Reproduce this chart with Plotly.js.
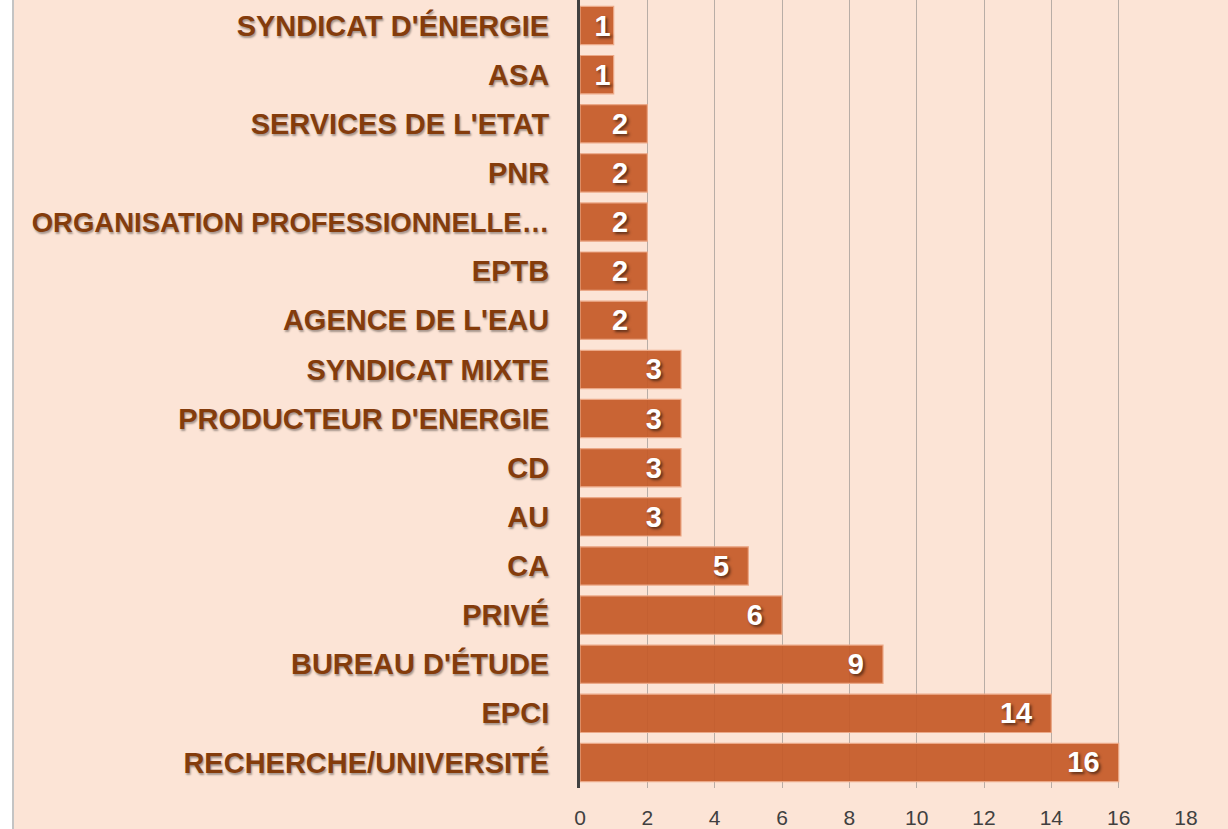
<!DOCTYPE html>
<html><head><meta charset="utf-8">
<script src="https://cdn.plot.ly/plotly-3.0.1.min.js"></script>
<style>
html,body{margin:0;padding:0;background:#ffffff;overflow:hidden;}
#wrap{position:absolute;left:12px;top:0;width:1216px;height:829px;border-left:2px solid #C4C4C4;background:#FCE4D6;}
#chart{width:1214px;height:829px;}
</style></head>
<body><div id="wrap"><div id="chart"></div></div>
<script>
const categories = ["SYNDICAT D'ÉNERGIE","ASA","SERVICES DE L'ETAT","PNR","ORGANISATION PROFESSIONNELLE…","EPTB","AGENCE DE L'EAU","SYNDICAT MIXTE","PRODUCTEUR D'ENERGIE","CD","AU","CA","PRIVÉ","BUREAU D'ÉTUDE","EPCI","RECHERCHE/UNIVERSITÉ"];
const values = [1,1,2,2,2,2,2,3,3,3,3,5,6,9,14,16];
const xTicks = [0,2,4,6,8,10,12,14,16,18];

const trace = {
  type:'bar', orientation:'h', y:categories, x:values,
  text: values.map(v => v < 2 ? String(v) : String(v) + '\u00A0\u00A0'),
  textposition:'inside', insidetextanchor:'end', textangle:0,
  constraintext:'none', cliponaxis:false,
  textfont:{family:'"Liberation Sans", Arial, sans-serif', size:29, color:'#ffffff', weight:700, shadow:'2px 2px 3px rgba(0,0,0,0.55)'},
  marker:{color:'rgba(197,90,40,0.93)', line:{color:'#EBA887', width:1.2}},
  hoverinfo:'skip'
};
const tickLabels = categories.map(c => c.length > 25 ? '<span style="font-size:27.5px">' + c + '</span>' : c);
const layout = {
  width:1214, height:829,
  margin:{l:566, r:42, t:0, b:41},
  paper_bgcolor:'#FCE4D6', plot_bgcolor:'#FCE4D6',
  bargap:0.22, showlegend:false,
  xaxis:{range:[0,18], tickvals:xTicks, ticktext:xTicks.map(String), showgrid:true, gridcolor:'#B8ADA6', gridwidth:1,
    zeroline:false, showline:false, ticks:'', ticklabelstandoff:15,
    tickfont:{family:'"Liberation Sans", Arial, sans-serif', size:21, color:'#404040'}, fixedrange:true},
  yaxis:{type:'category', autorange:false, range:[15.52,-0.52], showgrid:false, zeroline:false,
    tickvals:categories, ticktext:tickLabels,
    showline:true, linecolor:'#404040', linewidth:3, ticks:'', ticklabelstandoff:22,
    tickfont:{family:'"Liberation Sans", Arial, sans-serif', size:29, color:'#843C0C', weight:700, shadow:'1px 2px 2px rgba(0,0,0,0.35)'}, fixedrange:true}
};
Plotly.newPlot('chart',[trace],layout,{displayModeBar:false, staticPlot:true});
</script></body></html>
